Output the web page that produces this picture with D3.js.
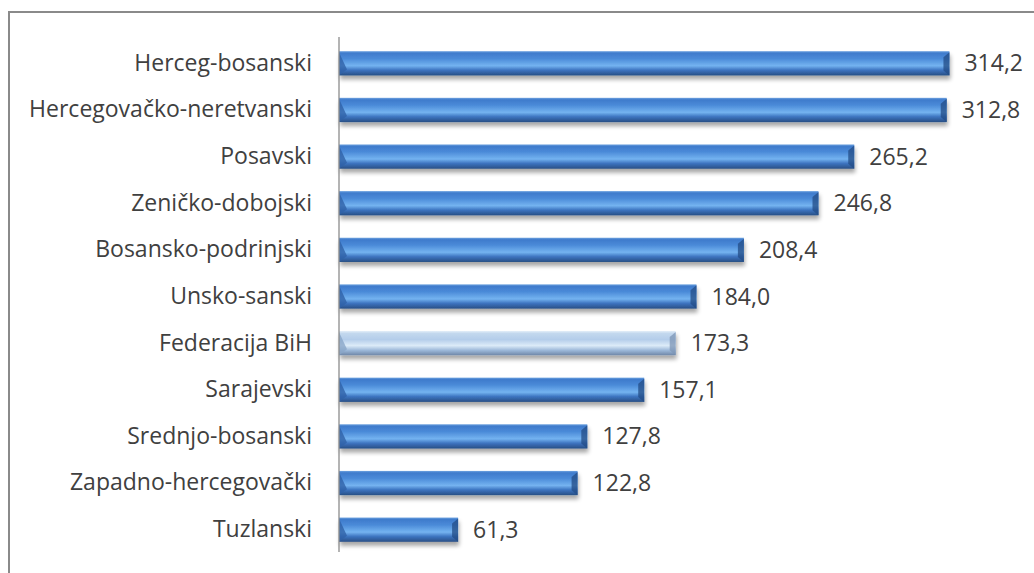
<!DOCTYPE html>
<html>
<head>
<meta charset="utf-8">
<script src="https://cdn.jsdelivr.net/npm/d3@7"></script>
<style>
  body { margin: 0; background: #fff; }
  text { font-family: "Open Sans", "Noto Sans", sans-serif; font-weight: 400; fill: #404040; }
</style>
</head>
<body>
<svg width="1034" height="573"></svg>
<script>
// values
var regions = ["Herceg-bosanski", "Hercegovačko-neretvanski", "Posavski", "Zeničko-dobojski",
    "Bosansko-podrinjski", "Unsko-sanski", "Federacija BiH", "Sarajevski",
    "Srednjo-bosanski", "Zapadno-hercegovački", "Tuzlanski"];
var values = [314.2, 312.8, 265.2, 246.8, 208.4, 184.0, 173.3, 157.1, 127.8, 122.8, 61.3];
var highlight = "Federacija BiH";

var svg = d3.select("svg");

// outer frame
svg.append("rect").attr("x", 9).attr("y", 12).attr("width", 1040).attr("height", 580)
    .attr("fill", "none").attr("stroke", "#8a8a8a").attr("stroke-width", 2);

var defs = svg.append("defs");

function grad(id, stops) {
    var g = defs.append("linearGradient").attr("id", id)
        .attr("x1", 0).attr("y1", 0).attr("x2", 0).attr("y2", 1);
    stops.forEach(function (s) {
        g.append("stop").attr("offset", s[0]).attr("stop-color", s[1]);
    });
}
grad("blue", [[0, "#6ea3e0"], [0.08, "#3f7bcc"], [0.3, "#4a8ad8"], [0.6, "#74b3f0"], [0.78, "#3d74c0"], [1, "#284f85"]]);
grad("light", [[0, "#e3eef8"], [0.1, "#c3d8ee"], [0.35, "#b4cdea"], [0.6, "#dcebf8"], [0.8, "#9bb7d8"], [1, "#6f87a8"]]);

var shadow = defs.append("filter").attr("id", "shadow")
    .attr("x", "-5%").attr("y", "-30%").attr("width", "110%").attr("height", "180%");
shadow.append("feGaussianBlur").attr("in", "SourceAlpha").attr("stdDeviation", 2.2);
shadow.append("feOffset").attr("dx", 1).attr("dy", 4).attr("result", "off");
shadow.append("feComponentTransfer").append("feFuncA").attr("type", "linear").attr("slope", 0.35);
var merge = shadow.append("feMerge");
merge.append("feMergeNode");
merge.append("feMergeNode").attr("in", "SourceGraphic");

var x = d3.scaleLinear().domain([0, 350]).range([339, 1019]);
var y = d3.scaleBand().domain(regions).range([40, 553]).paddingInner(0.48).paddingOuter(0.24);

var bars = svg.append("g").selectAll("g").data(regions).join("g");

bars.append("rect")
    .attr("x", x(0))
    .attr("y", function (d) { return y(d); })
    .attr("width", function (d, i) { return x(values[i]) - x(0); })
    .attr("height", y.bandwidth())
    .attr("fill", function (d) { return d == highlight ? "url(#light)" : "url(#blue)"; })
    .attr("filter", "url(#shadow)");

// bevelled ends
bars.append("path")
    .attr("d", function (d) {
        var x0 = x(0), y0 = y(d), h = y.bandwidth();
        return "M" + x0 + "," + (y0 + 1) + "L" + (x0 + 8) + "," + (y0 + h - 6) + "L" + x0 + "," + (y0 + h) + "Z";
    })
    .attr("fill", function (d) { return d == highlight ? "#8aa6c8" : "#2f62a8"; })
    .attr("opacity", 0.8);
bars.append("path")
    .attr("d", function (d, i) {
        var x1 = x(values[i]), y0 = y(d), h = y.bandwidth();
        return "M" + x1 + "," + (y0 + 1) + "L" + (x1 - 6) + "," + (y0 + 6) + "L" + (x1 - 6) + "," + (y0 + h - 5) + "L" + x1 + "," + (y0 + h) + "Z";
    })
    .attr("fill", function (d) { return d == highlight ? "#7d95b5" : "#234c86"; })
    .attr("opacity", 0.75);

// axis line and category labels
var yAxis = d3.axisLeft(y).tickSize(0).tickPadding(27);
var yAxisG = svg.append("g").attr("transform", "translate(" + x(0) + ",0)").call(yAxis);
yAxisG.select(".domain").attr("stroke", "#8c8c8c").attr("stroke-width", 1.3)
    .attr("d", "M0,37V552");
yAxisG.selectAll("text").style("font-size", "23px").style("fill", "#404040").attr("font-family", null);

// value labels
bars.append("text")
    .attr("x", function (d, i) { return x(values[i]) + 15; })
    .attr("y", function (d) { return y(d) + y.bandwidth() / 2; })
    .attr("dy", "0.35em")
    .style("font-size", "23px")
    .text(function (d, i) { return values[i].toFixed(1).replace(".", ","); });
</script>
</body>
</html>
